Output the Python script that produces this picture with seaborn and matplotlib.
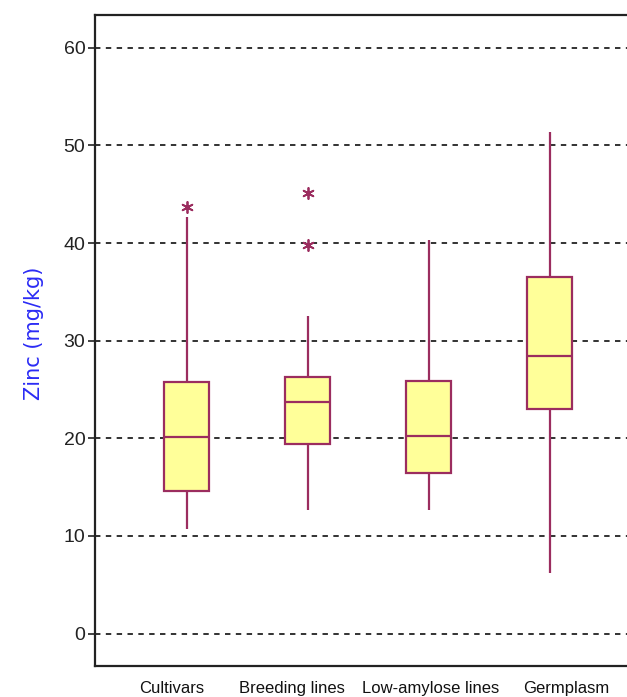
import matplotlib
matplotlib.use("Agg")
import matplotlib.pyplot as plt
import matplotlib.transforms as mtransforms
import seaborn as sns
import pandas as pd

# Zinc concentration summaries (mg/kg): whisker ends, quartiles and median
groups = ["Cultivars", "Breeding lines", "Low-amylose lines", "Germplasm"]
low_whisker = [10.7, 12.7, 12.7, 6.2]
q1 = [14.6, 19.4, 16.4, 23.0]
median = [20.1, 23.7, 20.2, 28.4]
q3 = [25.8, 26.3, 25.9, 36.5]
high_whisker = [42.7, 32.5, 40.3, 51.4]

# Outlying samples
outlier_group = ["Cultivars", "Breeding lines", "Breeding lines"]
outlier_value = [43.7, 45.1, 39.8]

y_ticks = [0, 10, 20, 30, 40, 50, 60]

box_fill = "#FFFF99"
box_edge = "#9B2D5F"

sns.set_theme(style="white")
plt.rcParams["font.family"] = ["Liberation Sans", "DejaVu Sans"]

rows = []
for g, a, b, c, d, e in zip(groups, low_whisker, q1, median, q3, high_whisker):
    for v in (a, b, c, d, e):
        rows.append({"group": g, "zinc": v})
summary = pd.DataFrame(rows)
outliers = pd.DataFrame({"group": outlier_group, "zinc": outlier_value})

fig = plt.figure(figsize=(6.27, 6.97), dpi=100)
ax = fig.add_axes([0.1515, 0.045, 0.86, 0.934])

for t in y_ticks:
    ax.axhline(t, color="#222222", lw=1.3, ls=(0, (3, 3)), zorder=0)

sns.boxplot(data=summary, x="group", y="zinc", order=groups, whis=(0, 100),
            width=0.375, color=box_fill, linecolor=box_edge, linewidth=1.6,
            showcaps=False, fliersize=0, saturation=1, ax=ax, zorder=2)

sns.stripplot(data=outliers, x="group", y="zinc", order=groups, jitter=False,
              marker=(6, 2, 0), size=8, color=box_edge, edgecolor=box_edge,
              linewidth=1.3, ax=ax, zorder=3)

ax.set_xlim(-0.758, 3.7)
ax.set_ylim(-3.28, 63.4)
ax.set_yticks(y_ticks)
ax.set_yticklabels([str(t) for t in y_ticks])
ax.set_xlabel("")
ax.set_ylabel("Zinc (mg/kg)", color="#2B2BF5", fontsize=15,
              family=["DejaVu Sans"])
ax.yaxis.set_label_coords(-0.094, 0.51)

ax.tick_params(axis="y", which="major", left=True, direction="out", length=5,
               width=1.2, color="#222222", labelsize=14, labelcolor="#222222", pad=2)
ax.tick_params(axis="x", bottom=False, labelsize=12, labelcolor="#111111", pad=5)

# nudge category labels sideways (pixels)
for lbl, dx in zip(ax.get_xticklabels(), [-15, -16, 2, 17]):
    lbl.set_transform(lbl.get_transform() +
                      mtransforms.ScaledTranslation(dx / 100, 0, fig.dpi_scale_trans))

for side in ("left", "top", "bottom"):
    ax.spines[side].set_color("#222222")
    ax.spines[side].set_linewidth(1.6)
ax.spines["right"].set_visible(False)

fig.savefig("out.png", dpi=100)
